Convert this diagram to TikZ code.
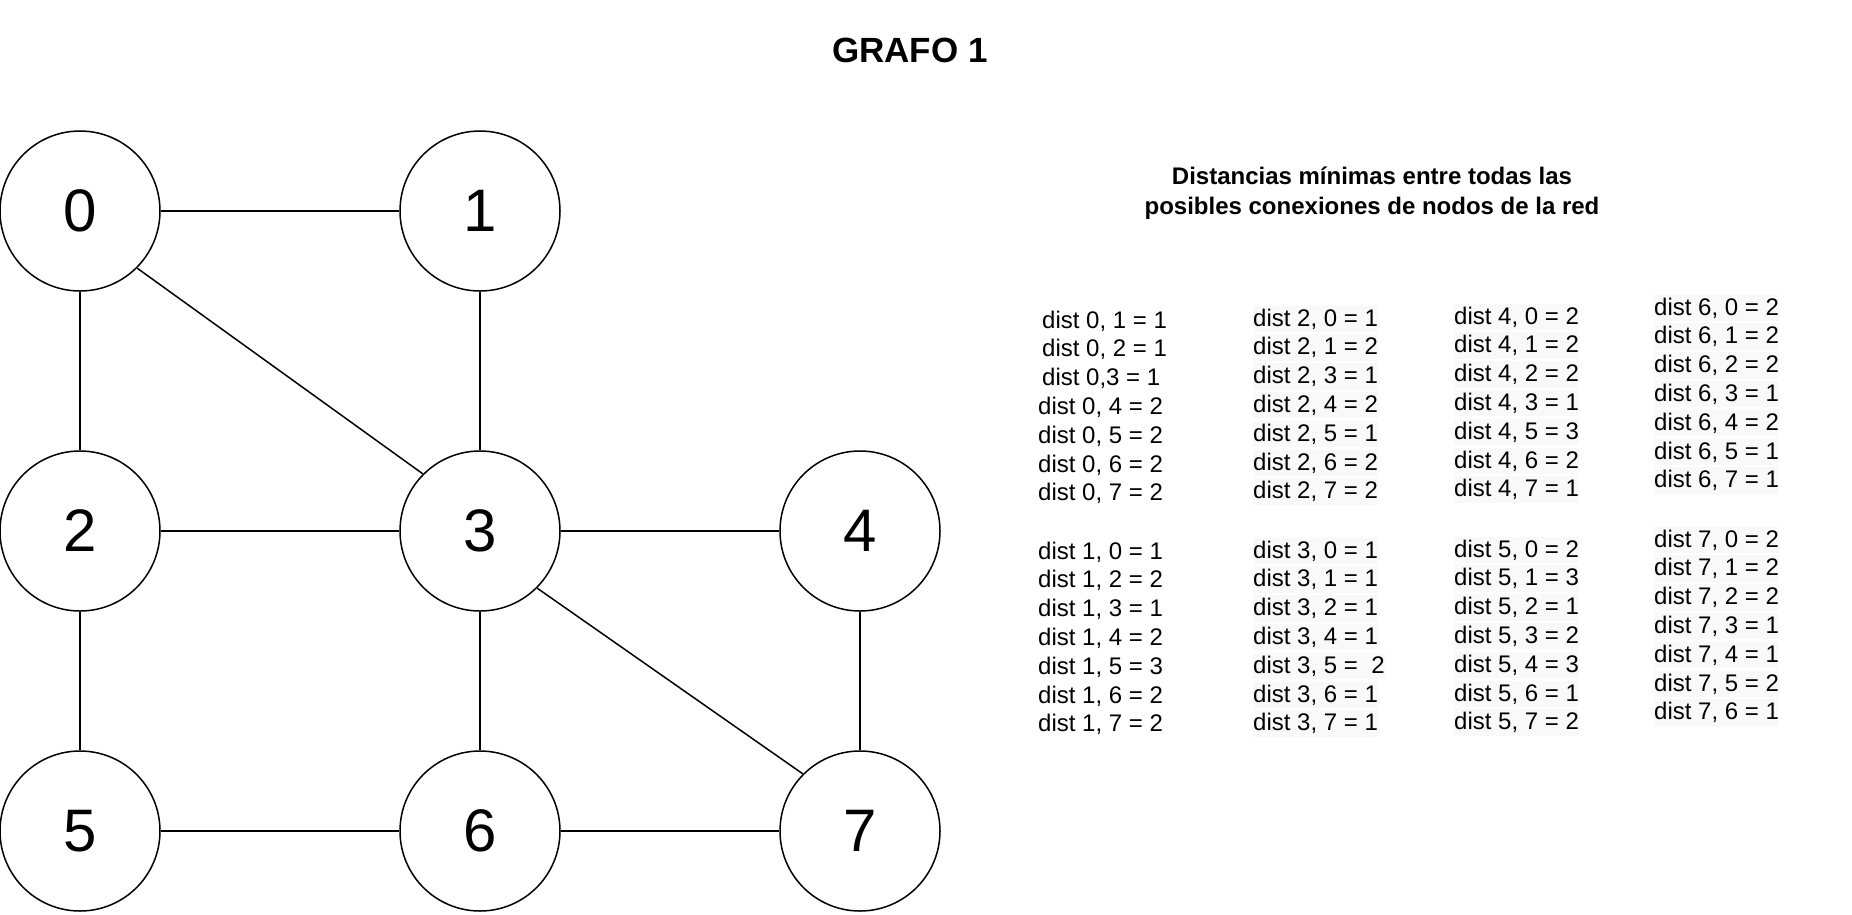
\documentclass[tikz,border=0pt]{standalone}
\usepackage{fontspec}
\setmainfont{Liberation Sans}
\definecolor{bgrow}{RGB}{249,249,249}
\begin{document}
\begin{tikzpicture}[x=1pt,y=-1pt,
  vertex/.style={circle,draw,line width=1.5pt,minimum size=160pt,inner sep=0pt,font=\fontsize{60}{72}\selectfont},
  edge/.style={line width=1.5pt},
  distA/.style={anchor=base west,inner sep=0pt,font=\fontsize{24}{29}\selectfont},
  distB/.style={distA,fill=bgrow,inner ysep=3pt}]
\useasboundingbox (0,0) rectangle (1852,914);

% title
\node[font=\bfseries\fontsize{35}{42}\selectfont,anchor=base] (title) at (910,62) {GRAFO 1};
\node[font=\bfseries\fontsize{24}{29.5}\selectfont,align=center,anchor=north,inner sep=0pt] (sub) at (1372,167)
  {Distancias mínimas entre todas las\\posibles conexiones de nodos de la red};

% graph
\node[vertex] (n0) at (80,211) {0};
\node[vertex] (n1) at (480,211) {1};
\node[vertex] (n2) at (80,531) {2};
\node[vertex] (n3) at (480,531) {3};
\node[vertex] (n4) at (860,531) {4};
\node[vertex] (n5) at (80,831) {5};
\node[vertex] (n6) at (480,831) {6};
\node[vertex] (n7) at (860,831) {7};

\draw[edge] (n0) -- (n1);
\draw[edge] (n0) -- (n2);
\draw[edge] (n0.-45) -- (n3.135);
\draw[edge] (n1) -- (n3);
\draw[edge] (n2) -- (n3);
\draw[edge] (n3) -- (n4);
\draw[edge] (n2) -- (n5);
\draw[edge] (n3) -- (n6);
\draw[edge] (n3.-45) -- (n7.135);
\draw[edge] (n4) -- (n7);
\draw[edge] (n5) -- (n6);
\draw[edge] (n6) -- (n7);

% distance lists
\foreach \t/\xx [count=\i from 0] in {{dist 0, 1 = 1}/1042,{dist 0, 2 = 1}/1042,{dist 0,3 = 1}/1042,{dist 0, 4 = 2}/1038,{dist 0, 5 = 2}/1038,{dist 0, 6 = 2}/1038,{dist 0, 7 = 2}/1038}
  \node[distA] (ra\i) at ({\xx},{328+28.8*\i}) {\t};
\foreach \t [count=\i from 0] in {{dist 1, 0 = 1},{dist 1, 2 = 2},{dist 1, 3 = 1},{dist 1, 4 = 2},{dist 1, 5 = 3},{dist 1, 6 = 2},{dist 1, 7 = 2}}
  \node[distA] (rb\i) at ({1038},{559+28.8*\i}) {\t};
\foreach \t [count=\i from 0] in {{dist 2, 0 = 1},{dist 2, 1 = 2},{dist 2, 3 = 1},{dist 2, 4 = 2},{dist 2, 5 = 1},{dist 2, 6 = 2},{dist 2, 7 = 2}}
  \node[distB] (rc\i) at ({1253},{326+28.8*\i}) {\t};
\foreach \t [count=\i from 0] in {{dist 3, 0 = 1},{dist 3, 1 = 1},{dist 3, 2 = 1},{dist 3, 4 = 1},{dist 3, 5 =\ \ 2},{dist 3, 6 = 1},{dist 3, 7 = 1}}
  \node[distB] (rd\i) at ({1253},{558+28.8*\i}) {\t};
\foreach \t [count=\i from 0] in {{dist 4, 0 = 2},{dist 4, 1 = 2},{dist 4, 2 = 2},{dist 4, 3 = 1},{dist 4, 5 = 3},{dist 4, 6 = 2},{dist 4, 7 = 1}}
  \node[distB] (re\i) at ({1454},{324+28.8*\i}) {\t};
\foreach \t [count=\i from 0] in {{dist 5, 0 = 2},{dist 5, 1 = 3},{dist 5, 2 = 1},{dist 5, 3 = 2},{dist 5, 4 = 3},{dist 5, 6 = 1},{dist 5, 7 = 2}}
  \node[distB] (rf\i) at ({1454},{557+28.8*\i}) {\t};
\foreach \t [count=\i from 0] in {{dist 6, 0 = 2},{dist 6, 1 = 2},{dist 6, 2 = 2},{dist 6, 3 = 1},{dist 6, 4 = 2},{dist 6, 5 = 1},{dist 6, 7 = 1}}
  \node[distB] (rg\i) at ({1654},{315+28.8*\i}) {\t};
\foreach \t [count=\i from 0] in {{dist 7, 0 = 2},{dist 7, 1 = 2},{dist 7, 2 = 2},{dist 7, 3 = 1},{dist 7, 4 = 1},{dist 7, 5 = 2},{dist 7, 6 = 1}}
  \node[distB] (rh\i) at ({1654},{547+28.8*\i}) {\t};
\end{tikzpicture}
\end{document}
